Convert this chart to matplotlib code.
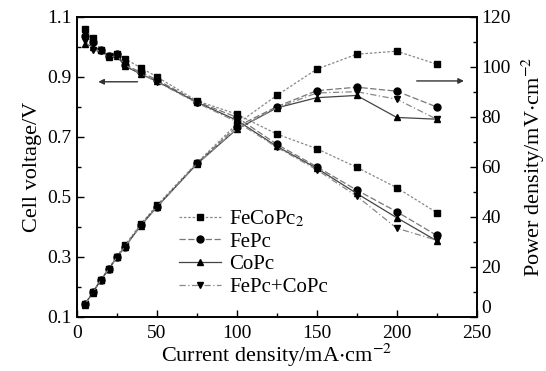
import matplotlib
matplotlib.use("Agg")
import matplotlib.pyplot as plt
from matplotlib.lines import Line2D

plt.rcParams['font.family'] = ['Liberation Serif', 'DejaVu Serif']
plt.rcParams['mathtext.fontset'] = 'stix'

current = [5, 10, 15, 20, 25, 30, 40, 50, 75, 100, 125, 150, 175, 200, 225]
names = ["FeCoPc$_2$", "FePc", "CoPc", "FePc+CoPc"]

v_fecopc2 = [1.058, 1.03, 0.99, 0.97, 0.975, 0.96, 0.93, 0.90, 0.82, 0.775, 0.709, 0.66, 0.598, 0.53, 0.447]
v_fepc = [1.035, 1.017, 0.99, 0.97, 0.975, 0.94, 0.915, 0.89, 0.817, 0.765, 0.675, 0.60, 0.522, 0.45, 0.371]
v_copc = [1.01, 1.0, 0.99, 0.965, 0.97, 0.936, 0.909, 0.885, 0.815, 0.755, 0.668, 0.595, 0.511, 0.43, 0.353]
v_mix = [1.02, 0.99, 0.985, 0.965, 0.97, 0.94, 0.91, 0.883, 0.813, 0.75, 0.665, 0.59, 0.502, 0.395, 0.355]

p_fecopc2 = [5.0, 9.8, 14.8, 19.2, 24.0, 28.5, 37.0, 44.5, 61.5, 77.0, 88.5, 99.0, 105.0, 106.2, 101.0]
p_fepc = [4.9, 9.7, 14.7, 19.0, 23.8, 28.0, 36.7, 44.0, 61.3, 76.0, 84.0, 90.4, 91.8, 90.2, 83.9]
p_copc = [4.8, 9.6, 14.6, 19.0, 23.7, 27.8, 36.4, 43.8, 61.0, 75.0, 83.5, 87.6, 88.5, 79.7, 79.0]
p_mix = [4.8, 9.6, 14.6, 19.0, 23.7, 27.9, 36.5, 43.8, 61.0, 75.0, 83.5, 89.5, 90.0, 87.0, 79.0]

voltages = [v_fecopc2, v_fepc, v_copc, v_mix]
powers = [p_fecopc2, p_fepc, p_copc, p_mix]
markers = ['s', 'o', '^', 'v']
linestyles = [(0, (2, 1.5)), (0, (5, 2)), '-', (0, (5, 2, 1, 2))]
linecolors = ['#888888', '#777777', '#444444', '#888888']

fig = plt.figure(figsize=(5.46, 3.71), dpi=100)
ax = fig.add_axes([0.1405, 0.1464, 0.7326, 0.8086])
ax2 = ax.twinx()

handles = []
for v, p, m, ls, lc, nm in zip(voltages, powers, markers, linestyles, linecolors, names):
    ax.plot(current, v, linestyle=ls, color=lc, lw=0.9, marker=m, ms=5,
            mfc='black', mec='black')
    ax2.plot(current, p, linestyle=ls, color=lc, lw=0.9, marker=m, ms=5,
             mfc='black', mec='black')
    handles.append(Line2D([], [], linestyle=ls, color=lc, lw=0.9, marker=m, ms=5,
                          mfc='black', mec='black', label=nm))

ax.set_xlim(0, 250)
ax.set_ylim(0.1, 1.1)
ax2.set_ylim(0, 120)
ax.set_xticks([0, 50, 100, 150, 200, 250])
ax.set_xticks([25, 75, 125, 175, 225], minor=True)
ax.set_yticks([0.1, 0.3, 0.5, 0.7, 0.9, 1.1])
ax.set_yticklabels(['0.1', '0.3', '0.5', '0.7', '0.9', '1.1'])
ax.set_yticks([0.2, 0.4, 0.6, 0.8, 1.0], minor=True)
ax2.set_yticks([0, 20, 40, 60, 80, 100, 120])
ax2.set_yticks([10, 30, 50, 70, 90, 110], minor=True)

for a in (ax, ax2):
    a.tick_params(which='both', direction='in', labelsize=14, width=1.0)
    a.tick_params(which='major', length=5)
    a.tick_params(which='minor', length=3)
    for s in a.spines.values():
        s.set_linewidth(1.2)
ax.tick_params(axis='x', pad=6)

# lift the right-hand "0" slightly so it does not collide with "250"
ax2.yaxis.get_major_ticks()[0].label2.set_va('bottom')

ax.set_xlabel("Current density/mA$\\cdot$cm$^{-2}$", fontsize=16, labelpad=0)
ax.set_ylabel("Cell voltage/V", fontsize=16, labelpad=4)
ax2.set_ylabel("Power density/mV$\\cdot$cm$^{-2}$", fontsize=16, labelpad=6)

ax.annotate('', xy=(13.5, 0.883), xytext=(38, 0.883),
            arrowprops=dict(arrowstyle='-|>', color='#333333', lw=1.0,
                            mutation_scale=8, shrinkA=0, shrinkB=0))
ax2.annotate('', xy=(242, 94.3), xytext=(212.5, 94.3),
             arrowprops=dict(arrowstyle='-|>', color='#333333', lw=1.0,
                             mutation_scale=8, shrinkA=0, shrinkB=0))

ax.legend(handles=handles, loc='upper left', bbox_to_anchor=(0.22, 0.41),
          frameon=False, fontsize=15, handlelength=2.0, handletextpad=0.4,
          labelspacing=0.15, borderpad=0.2)

fig.savefig("out.png", dpi=100)
